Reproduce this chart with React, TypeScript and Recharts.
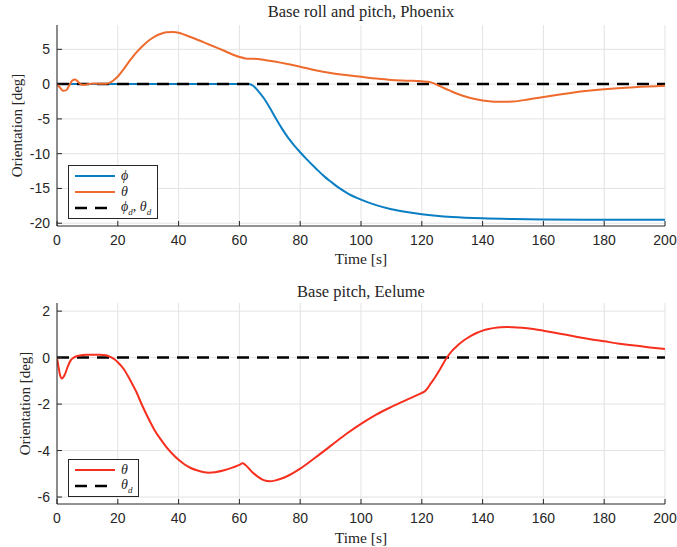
import { LineChart, Line, XAxis, YAxis, CartesianGrid, Legend } from 'recharts'

// time ticks shared by both panels
const timeTicks = [0, 20, 40, 60, 80, 100, 120, 140, 160, 180, 200]
const topTicks = [-20, -15, -10, -5, 0, 5]
const bottomTicks = [-6, -4, -2, 0, 2]

// Phoenix roll (phi)
const phiT = [0, 20, 40, 60, 63, 64, 65, 66, 68, 70, 72, 74, 76, 78, 80, 82, 85, 88, 90, 93, 96, 100, 105, 110, 115, 120, 130, 140, 150, 160, 180, 200]
const phiV = [0, 0, 0, 0, 0, -0.1, -0.4, -0.9, -2.0, -3.4, -4.95, -6.4, -7.7, -8.8, -9.8, -10.75, -12.05, -13.3, -14.0, -15.0, -15.8, -16.6, -17.4, -18.0, -18.4, -18.7, -19.1, -19.3, -19.4, -19.45, -19.5, -19.5]

// Phoenix pitch (theta)
const thetaPT = [0, 1, 2, 3, 4, 5, 6, 7, 8, 9, 10, 12, 14, 16, 17, 18, 19, 20, 22, 24, 26, 28, 30, 32, 34, 36, 38, 40, 42, 45, 50, 55, 60, 62, 64, 66, 70, 75, 80, 85, 90, 95, 100, 105, 110, 115, 120, 122, 124, 126, 128, 130, 133, 136, 140, 145, 150, 155, 160, 170, 180, 190, 200]
const thetaPV = [0, -0.5, -0.95, -0.9, -0.2, 0.5, 0.65, 0.3, -0.05, -0.1, 0, 0.1, 0.05, 0.05, 0.15, 0.35, 0.7, 1.1, 2.2, 3.4, 4.5, 5.4, 6.2, 6.8, 7.2, 7.45, 7.5, 7.4, 7.1, 6.6, 5.7, 4.8, 3.9, 3.7, 3.65, 3.6, 3.35, 2.95, 2.5, 2.0, 1.6, 1.3, 1.05, 0.8, 0.6, 0.5, 0.4, 0.33, 0.1, -0.3, -0.7, -1.1, -1.6, -2.0, -2.35, -2.55, -2.5, -2.2, -1.85, -1.2, -0.75, -0.45, -0.25]

// Eelume pitch (theta)
const thetaET = [0, 0.5, 1, 1.6, 2.5, 3.5, 4.5, 5.5, 7, 10, 14, 16, 17, 18, 19, 20, 22, 24, 26, 28, 30, 32, 34, 36, 38, 40, 42, 44, 46, 48, 50, 52, 55, 58, 60, 61, 62, 64, 66, 68, 70, 72, 75, 80, 85, 90, 95, 100, 105, 110, 115, 120, 121, 122, 123, 124, 125, 126, 128, 130, 132, 134, 136, 138, 140, 142, 144, 146, 148, 150, 153, 156, 160, 165, 170, 175, 180, 185, 190, 195, 200]
const thetaEV = [0, -0.4, -0.75, -0.9, -0.75, -0.4, -0.12, 0, 0.08, 0.12, 0.12, 0.1, 0.06, 0, -0.08, -0.2, -0.5, -0.95, -1.45, -2.05, -2.6, -3.1, -3.5, -3.85, -4.15, -4.4, -4.6, -4.75, -4.85, -4.92, -4.95, -4.93, -4.85, -4.72, -4.62, -4.55, -4.62, -4.9, -5.12, -5.27, -5.32, -5.28, -5.15, -4.78, -4.3, -3.8, -3.3, -2.85, -2.45, -2.12, -1.82, -1.52, -1.45, -1.3, -1.1, -0.92, -0.72, -0.5, -0.05, 0.3, 0.55, 0.76, 0.92, 1.06, 1.16, 1.23, 1.28, 1.31, 1.32, 1.31, 1.28, 1.24, 1.16, 1.04, 0.92, 0.8, 0.7, 0.6, 0.52, 0.44, 0.37]

// desired reference
const refT = [0, 200]
const refV = [0, 0]

const toPoints = (t: number[], v: number[]) => t.map((x, i) => ({ t: x, v: v[i] }))

const BLUE = '#0a7ec2'
const ORANGE = '#ee6b2d'
const RED = '#f72f1e'
const AXIS = '#262626'
const SERIF = '"Liberation Serif", "Times New Roman", serif'
const SANS = '"Liberation Sans", Arial, sans-serif'

const tickStyle = { fontSize: 14, fill: AXIS, fontFamily: SANS }

type Item = { kind: 'solid' | 'dash'; color: string; label: React.ReactNode }

const LegendBox = ({ items }: { items: Item[] }) => (
    <div style={{ border: `1px solid ${AXIS}`, background: '#fff', padding: '2px 6px 2px 5px', fontFamily: SERIF, fontSize: 14, color: AXIS }}>
        {items.map((it, i) => (
            <div key={i} style={{ display: 'flex', alignItems: 'center', height: 16 }}>
                <svg width={42} height={16} style={{ marginRight: 5 }}>
                    <line x1={1} x2={41} y1={8} y2={8} stroke={it.color} strokeWidth={it.kind === 'dash' ? 2.5 : 2} strokeDasharray={it.kind === 'dash' ? '12 8' : undefined} />
                </svg>
                <span style={{ whiteSpace: 'nowrap' }}>{it.label}</span>
            </div>
        ))}
    </div>
)

const xLabel = (offsetY: number) => ({ viewBox }: any) => (
    <text x={viewBox.x + viewBox.width / 2} y={viewBox.y + offsetY} textAnchor="middle" dominantBaseline="central" fontFamily={SERIF} fontSize={15.5} fill={AXIS}>
        Time [s]
    </text>
)

const yLabel = (cx: number) => ({ viewBox }: any) => {
    const cy = viewBox.y + viewBox.height / 2
    return (
        <text x={cx} y={cy} transform={`rotate(-90 ${cx} ${cy})`} textAnchor="middle" dominantBaseline="central" fontFamily={SERIF} fontSize={15} fill={AXIS}>
            Orientation [deg]
        </text>
    )
}

const Sub = ({ s }: { s: string }) => <sub style={{ fontSize: 9, fontStyle: 'italic' }}>{s}</sub>

const titleStyle = { position: 'absolute' as const, left: 57, width: 608, textAlign: 'center' as const, fontFamily: SERIF, fontSize: 16.5, color: AXIS, lineHeight: '18px' }

export default function App() {
    return (
        <div style={{ position: 'absolute', left: 0, top: 0, width: 677, height: 547, background: '#fff' }}>
            <div style={{ ...titleStyle, top: 3 }}>Base roll and pitch, Phoenix</div>
            <div style={{ position: 'absolute', left: 0, top: 0 }}>
                <LineChart width={677} height={270} margin={{ top: 25, right: 12, bottom: 0, left: 0 }}>
                    <CartesianGrid stroke="#e3e3e3" horizontalValues={topTicks} verticalValues={timeTicks} />
                    <XAxis type="number" dataKey="t" domain={[0, 200]} ticks={timeTicks} height={44} allowDataOverflow
                        tick={tickStyle} tickSize={-5} tickMargin={14} stroke={AXIS} label={{ content: xLabel(32) }} />
                    <YAxis type="number" dataKey="v" domain={[-20.4, 8.5]} ticks={topTicks} width={57} allowDataOverflow
                        tick={tickStyle} tickSize={-5} tickMargin={12} stroke={AXIS} label={{ content: yLabel(16.5) }} />
                    <Line data={toPoints(phiT, phiV)} dataKey="v" type="monotone" stroke={BLUE} strokeWidth={2} dot={false} isAnimationActive={false} />
                    <Line data={toPoints(refT, refV)} dataKey="v" type="linear" stroke="#000" strokeWidth={2.5} strokeDasharray="12 8" dot={false} isAnimationActive={false} />
                    <Line data={toPoints(thetaPT, thetaPV)} dataKey="v" type="monotone" stroke={ORANGE} strokeWidth={2} dot={false} isAnimationActive={false} />
                    <Legend layout="horizontal" verticalAlign="middle" align="center" wrapperStyle={{ left: 68, top: 165, width: 'auto' }}
                        content={() => (
                            <LegendBox items={[
                                { kind: 'solid', color: BLUE, label: <i>ϕ</i> },
                                { kind: 'solid', color: ORANGE, label: <i>θ</i> },
                                { kind: 'dash', color: '#000', label: <span><i>ϕ</i><Sub s="d" />, <i>θ</i><Sub s="d" /></span> },
                            ]} />
                        )} />
                </LineChart>
            </div>
            <div style={{ ...titleStyle, top: 283 }}>Base pitch, Eelume</div>
            <div style={{ position: 'absolute', left: 0, top: 270 }}>
                <LineChart width={677} height={277} margin={{ top: 33, right: 12, bottom: 0, left: 0 }}>
                    <CartesianGrid stroke="#e3e3e3" horizontalValues={bottomTicks} verticalValues={timeTicks} />
                    <XAxis type="number" dataKey="t" domain={[0, 200]} ticks={timeTicks} height={43} allowDataOverflow
                        tick={tickStyle} tickSize={-5} tickMargin={14} stroke={AXIS} label={{ content: xLabel(33) }} />
                    <YAxis type="number" dataKey="v" domain={[-6.3, 2.35]} ticks={bottomTicks} width={57} allowDataOverflow
                        tick={tickStyle} tickSize={-5} tickMargin={12} stroke={AXIS} label={{ content: yLabel(25) }} />
                    <Line data={toPoints(refT, refV)} dataKey="v" type="linear" stroke="#000" strokeWidth={2.5} strokeDasharray="12 8" dot={false} isAnimationActive={false} />
                    <Line data={toPoints(thetaET, thetaEV)} dataKey="v" type="monotone" stroke={RED} strokeWidth={2} dot={false} isAnimationActive={false} />
                    <Legend layout="horizontal" verticalAlign="middle" align="center" wrapperStyle={{ left: 68, top: 189, width: 'auto' }}
                        content={() => (
                            <LegendBox items={[
                                { kind: 'solid', color: RED, label: <i>θ</i> },
                                { kind: 'dash', color: '#000', label: <span><i>θ</i><Sub s="d" /></span> },
                            ]} />
                        )} />
                </LineChart>
            </div>
        </div>
    )
}
